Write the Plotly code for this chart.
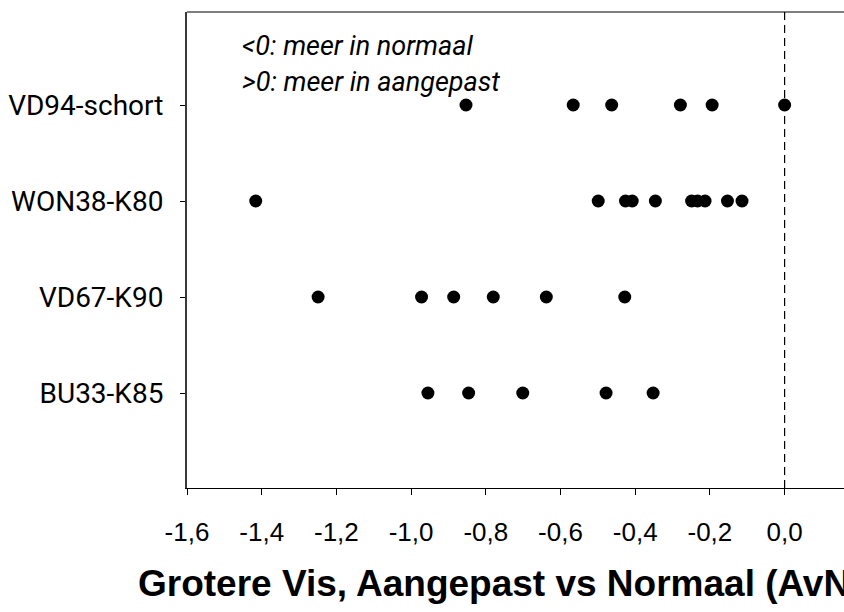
import plotly.graph_objects as go

# Difference per sample: Aangepast vs Normaal (AvN) for larger fish
categories = ["BU33-K85", "VD67-K90", "WON38-K80", "VD94-schort"]
bu33_k85 = [-0.955, -0.846, -0.701, -0.478, -0.352]
vd67_k90 = [-1.249, -0.972, -0.886, -0.780, -0.638, -0.428]
won38_k80 = [-1.416, -0.499, -0.426, -0.408, -0.346, -0.249, -0.233, -0.213, -0.153, -0.114]
vd94_schort = [-0.853, -0.566, -0.463, -0.279, -0.194, 0.0]
series = [bu33_k85, vd67_k90, won38_k80, vd94_schort]

tick_vals = [-1.6, -1.4, -1.2, -1.0, -0.8, -0.6, -0.4, -0.2, 0.0]
tick_text = ["-1,6", "-1,4", "-1,2", "-1,0", "-0,8", "-0,6", "-0,4", "-0,2", "0,0"]

narrow = "Roboto, Liberation Sans, sans-serif"
regular = "Liberation Sans, Arial, sans-serif"

fig = go.Figure()
for i, (cat, vals) in enumerate(zip(categories, series), start=1):
    fig.add_trace(go.Scatter(
        x=vals, y=[i] * len(vals), mode="markers", name=cat,
        marker=dict(color="black", size=13, line=dict(width=0)),
        showlegend=False, cliponaxis=False,
    ))

# zero reference line
fig.add_shape(type="line", xref="x", yref="paper", x0=0, x1=0, y0=0, y1=1,
              line=dict(color="black", width=1.2, dash="8px,5px"))
# top frame line
fig.add_shape(type="line", xref="paper", yref="paper", x0=0, x1=1, y0=1, y1=1,
              line=dict(color="black", width=1.2))

note_font = dict(family=narrow, size=27, color="black", style="italic")
fig.add_annotation(x=-1.458, y=4.615, xref="x", yref="y", text="<0: meer in normaal",
                   showarrow=False, xanchor="left", yanchor="middle", font=note_font)
fig.add_annotation(x=-1.458, y=4.245, xref="x", yref="y", text=">0: meer in aangepast",
                   showarrow=False, xanchor="left", yanchor="middle", font=note_font)

fig.add_annotation(x=-0.0776, y=-0.20, xref="paper", yref="paper",
                   text="<b>Grotere Vis, Aangepast vs Normaal (AvN)</b>",
                   showarrow=False, xanchor="left", yanchor="middle",
                   font=dict(family=regular, size=37, color="black"))

fig.update_layout(
    width=844, height=612,
    margin=dict(l=187, r=0, t=12, b=124),
    paper_bgcolor="white", plot_bgcolor="white",
    xaxis=dict(range=[-1.6, 0.159], tickvals=tick_vals, ticktext=tick_text,
               showgrid=False, zeroline=False, showline=True, linecolor="black",
               linewidth=1.3, ticks="outside", ticklen=6, tickcolor="black",
               tickwidth=1, ticklabelstandoff=15, automargin=False,
               tickfont=dict(family=regular, size=26, color="black")),
    yaxis=dict(range=[0.0104, 4.969], tickvals=[1, 2, 3, 4], ticktext=categories,
               showgrid=False, zeroline=False, showline=True, linecolor="#3a3a3a",
               linewidth=2, ticks="outside", ticklen=5, tickcolor="black",
               tickwidth=1, ticklabelstandoff=11, automargin=False,
               tickfont=dict(family=narrow, size=28, color="black")),
)

fig.write_html("out.html")
